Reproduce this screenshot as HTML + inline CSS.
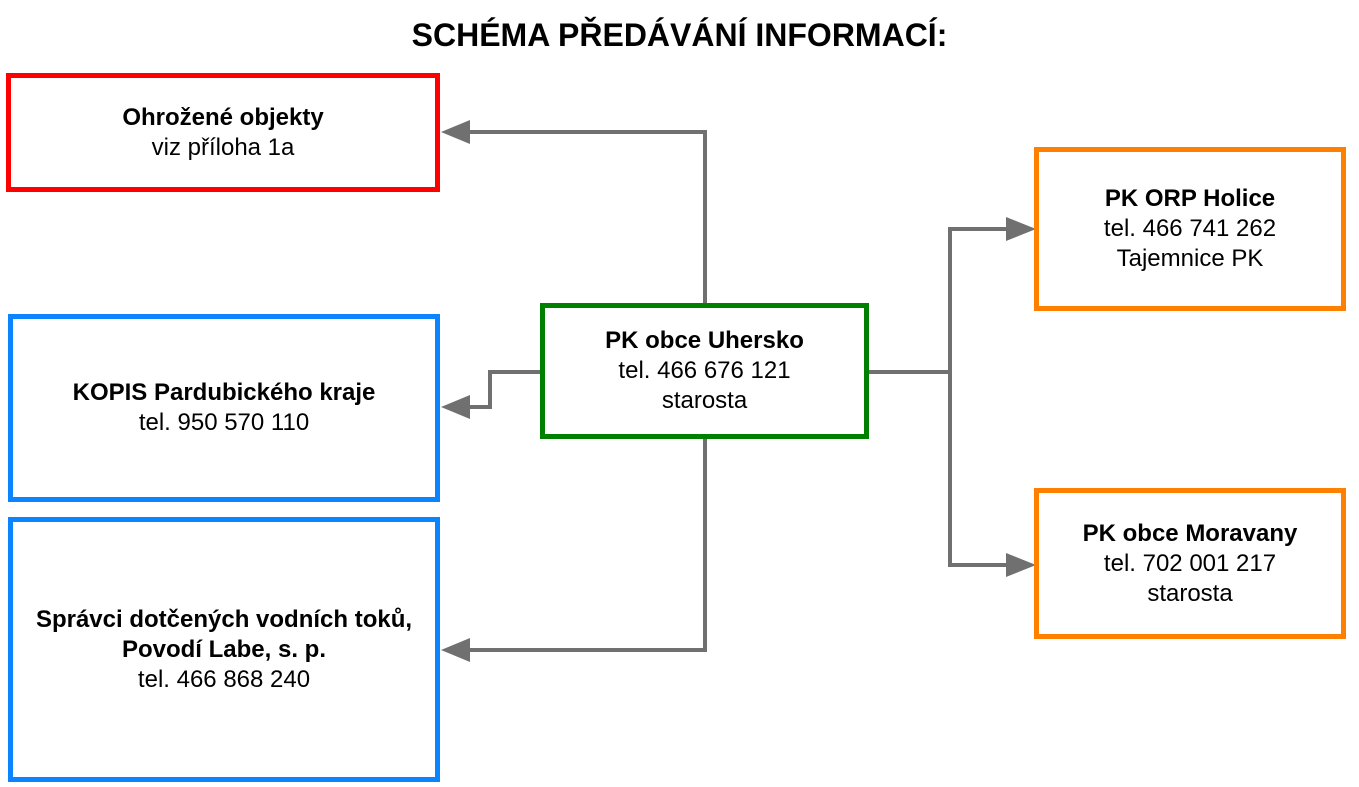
<!DOCTYPE html>
<html><head><meta charset="utf-8"><style>
body{margin:0;width:1359px;height:787px;background:#fff;position:relative;overflow:hidden;font-family:"Liberation Sans",sans-serif;color:#000}
.t{position:absolute;left:0;width:1359px;top:15px;text-align:center;font-weight:bold;font-size:32px;line-height:40px}
.b{position:absolute;box-sizing:border-box;border:5px solid;display:flex;flex-direction:column;justify-content:center;align-items:center;text-align:center;font-size:24px;line-height:30px}
.b b{font-weight:bold}
</style></head><body>
<div class="t">SCHÉMA PŘEDÁVÁNÍ INFORMACÍ:</div>
<svg width="1359" height="787" style="position:absolute;left:0;top:0">
<g stroke="#707070" stroke-width="4" fill="none">
<polyline points="705,305 705,132 468,132"/>
<polyline points="542,372 490,372 490,407 468,407"/>
<polyline points="705,437 705,650 468,650"/>
<polyline points="867,372 950,372"/>
<polyline points="1008,229 950,229 950,565 1008,565"/>
</g>
<g fill="#707070">
<polygon points="441,132 470,120 470,144"/>
<polygon points="441,407 470,395 470,419"/>
<polygon points="441,650 470,638 470,662"/>
<polygon points="1036,229 1006,217 1006,241"/>
<polygon points="1036,565 1006,553 1006,577"/>
</g>
</svg>
<div class="b" style="left:6px;top:73px;width:434px;height:119px;border-color:#fe0000"><b>Ohrožené objekty</b>viz příloha 1a</div>
<div class="b" style="left:8px;top:314px;width:432px;height:188px;border-color:#0a84ff"><b>KOPIS Pardubického kraje</b>tel. 950 570 110</div>
<div class="b" style="left:8px;top:517px;width:432px;height:265px;border-color:#0a84ff"><b>Správci dotčených vodních toků,</b><b>Povodí Labe, s. p.</b>tel. 466 868 240</div>
<div class="b" style="left:540px;top:303px;width:329px;height:136px;border-color:#008000"><b>PK obce Uhersko</b>tel. 466 676 121<br>starosta</div>
<div class="b" style="left:1034px;top:147px;width:312px;height:164px;border-color:#ff8000"><b>PK ORP Holice</b>tel. 466 741 262<br>Tajemnice PK</div>
<div class="b" style="left:1034px;top:488px;width:312px;height:151px;border-color:#ff8000"><b>PK obce Moravany</b>tel. 702 001 217<br>starosta</div>
</body></html>
